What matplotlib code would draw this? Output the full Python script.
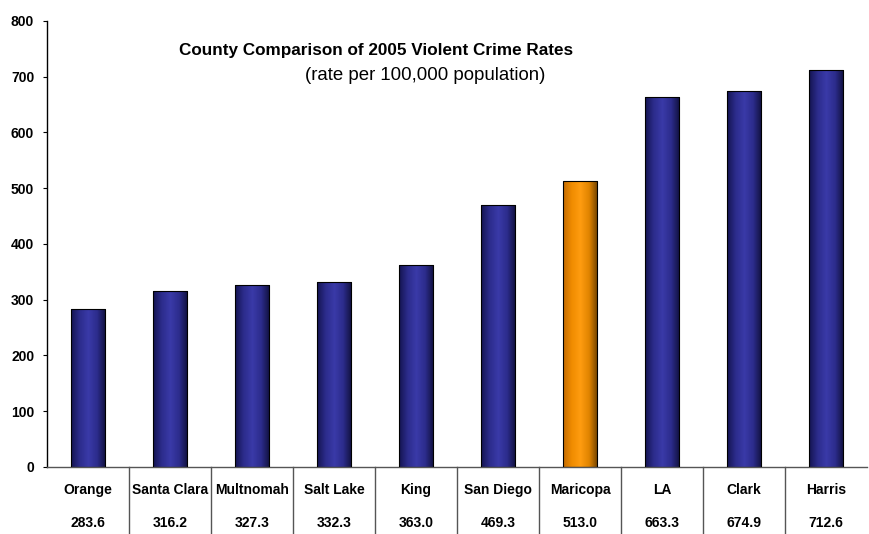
import matplotlib
matplotlib.use("Agg")
import matplotlib.pyplot as plt
import matplotlib.transforms as mtransforms
from matplotlib.colors import LinearSegmentedColormap
import numpy as np

# county violent crime rates, 2005
counties = ["Orange", "Santa Clara", "Multnomah", "Salt Lake", "King",
            "San Diego", "Maricopa", "LA", "Clark", "Harris"]
rates = [283.6, 316.2, 327.3, 332.3, 363.0, 469.3, 513.0, 663.3, 674.9, 712.6]
highlight = "Maricopa"
yticks = [0, 100, 200, 300, 400, 500, 600, 700, 800]

plt.rcParams["font.family"] = ["Liberation Sans", "DejaVu Sans"]

navy = LinearSegmentedColormap.from_list(
    "navy", ["#141450", "#2c2c8c", "#3a3aa8", "#2c2c8c", "#10103c"])
orange = LinearSegmentedColormap.from_list(
    "orange", ["#c26a00", "#f08c00", "#ff9c10", "#e08400", "#6e4000"])

fig = plt.figure(figsize=(8.69, 5.34), dpi=100)
ax = fig.add_axes([0.054, 0.1255, 0.944, 0.8352])

x = np.arange(len(counties))
bars = ax.bar(x, rates, width=0.42, color="none", edgecolor="black",
              linewidth=0.8, zorder=3)

# horizontal gradient fill clipped to each bar
grad = np.linspace(0, 1, 256).reshape(1, -1)
for name, b in zip(counties, bars):
    cmap = orange if name == highlight else navy
    x0, y0 = b.get_x(), b.get_y()
    im = ax.imshow(grad, cmap=cmap, aspect="auto", zorder=2,
                   extent=[x0, x0 + b.get_width(), y0, y0 + b.get_height()])
    im.set_clip_path(b)

ax.set_xlim(-0.5, len(counties) - 0.5)
ax.set_ylim(0, 800)
ax.set_yticks(yticks)
ax.set_yticklabels([str(t) for t in yticks], fontsize=10, fontweight="bold")
ax.tick_params(axis="y", direction="out", length=3.2, width=0.8, pad=6)
ax.set_xticks([])
for s in ["top", "right"]:
    ax.spines[s].set_visible(False)
for s in ["left", "bottom"]:
    ax.spines[s].set_linewidth(1.0)
ax.spines["bottom"].set_color("#555555")

# data table under the axis
trans = mtransforms.blended_transform_factory(ax.transData, ax.transAxes)
off_name = mtransforms.offset_copy(trans, fig=fig, y=-23, units="dots")
off_val = mtransforms.offset_copy(trans, fig=fig, y=-56, units="dots")
for xi, name, r in zip(x, counties, rates):
    ax.text(xi, 0, name, transform=off_name, ha="center", va="center",
            fontsize=10, fontweight="bold")
    ax.text(xi, 0, f"{r:.1f}", transform=off_val, ha="center", va="center",
            fontsize=10, fontweight="bold")
for xi in x[1:]:
    ax.plot([xi - 0.5, xi - 0.5], [0, -0.2], transform=trans, color="#555555",
            linewidth=1.0, clip_on=False)

fig.text(376 / 869, 1 - 50 / 534, "County Comparison of 2005 Violent Crime Rates",
         ha="center", va="center", fontsize=12.3, fontweight="bold")
fig.text(425 / 869, 1 - 76 / 534, "(rate per 100,000 population)",
         ha="center", va="center", fontsize=13.4)

fig.savefig("out.png", dpi=100)
